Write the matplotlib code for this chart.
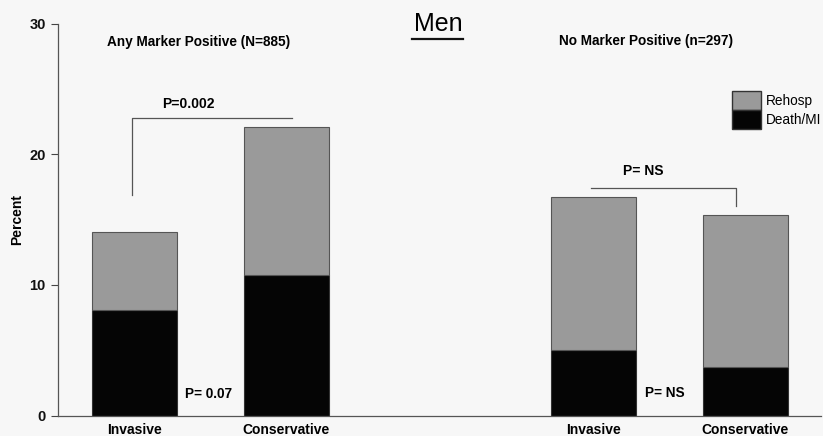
import matplotlib
matplotlib.use('Agg')
import matplotlib.pyplot as plt
from matplotlib.patches import Patch

plt.rcParams['font.family'] = ['Liberation Sans', 'DejaVu Sans']

# Data (percent)
categories = ['Invasive', 'Conservative', 'Invasive', 'Conservative']
death_mi = [8.1, 10.8, 5.0, 3.7]
rehosp = [5.95, 11.3, 11.7, 11.65]
group_titles = ['Any Marker Positive (N=885)', 'No Marker Positive (n=297)']
p_total = ['P=0.002', 'P= NS']
p_death = ['P= 0.07', 'P= NS']

positions = [0, 1, 3.03, 4.03]
width = 0.56
grey = '#9a9a9a'

fig = plt.figure(figsize=(8.23, 4.36), dpi=100)
fig.patch.set_facecolor('#f7f7f7')
ax = fig.add_axes([0.0708, 0.0466, 0.927, 0.8993])
ax.set_facecolor('#f7f7f7')

ax.bar(positions, death_mi, width, color='#050505', edgecolor='#333333', linewidth=0.8)
ax.bar(positions, rehosp, width, bottom=death_mi, color=grey, edgecolor='#555555', linewidth=0.8)

ax.set_xlim(-0.505, 4.53)
ax.set_ylim(0, 30)
ax.set_yticks([0, 10, 20, 30])
ax.set_yticklabels(['0', '10', '20', '30'], fontweight='bold')
ax.tick_params(axis='y', length=5, width=0.8, colors='#444444', labelsize=10.5,
               labelcolor='#111111', pad=4)
ax.set_xticks(positions)
ax.set_xticklabels(categories, fontweight='bold', fontsize=10)
ax.tick_params(axis='x', length=0, pad=5)
for s in ['top', 'right']:
    ax.spines[s].set_visible(False)
for s in ['left', 'bottom']:
    ax.spines[s].set_color('#555555')
    ax.spines[s].set_linewidth(0.9)

ax.set_ylabel('Percent', fontweight='bold', fontsize=10, labelpad=4)

# title
fig.text(0.532, 0.944, 'Men', ha='center', va='center', fontsize=18)
fig.add_artist(plt.Line2D([0.5, 0.563], [0.911, 0.911], color='#111111', lw=1.6))

# group headings
ax.text(0.42, 28.6, group_titles[0], ha='center', va='center', fontweight='bold', fontsize=9.8)
ax.text(3.375, 28.7, group_titles[1], ha='center', va='center', fontweight='bold', fontsize=9.8)

# brackets for total events
ax.plot([-0.02, -0.02, 1.04], [16.9, 22.8, 22.8], color='#555555', lw=0.9)
ax.text(0.356, 23.85, p_total[0], ha='center', va='center', fontweight='bold', fontsize=10)
ax.plot([3.01, 3.97, 3.97], [17.45, 17.45, 16.05], color='#555555', lw=0.9)
ax.text(3.355, 18.7, p_total[1], ha='center', va='center', fontweight='bold', fontsize=10)

# p values for death/MI
ax.text(0.33, 1.65, p_death[0], ha='left', va='center', fontweight='bold', fontsize=9.8)
ax.text(3.37, 1.7, p_death[1], ha='left', va='center', fontweight='bold', fontsize=9.8)

handles = [Patch(facecolor=grey, edgecolor='#333333', label='Rehosp'),
           Patch(facecolor='#050505', edgecolor='#333333', label='Death/MI')]
ax.legend(handles=handles, loc='upper left', bbox_to_anchor=(0.8835, 0.828), frameon=False,
          fontsize=9.8, handlelength=2.1, handleheight=1.75, labelspacing=0.0,
          handletextpad=0.4, borderaxespad=0, borderpad=0)

fig.savefig('out.png', dpi=100, facecolor=fig.get_facecolor())
